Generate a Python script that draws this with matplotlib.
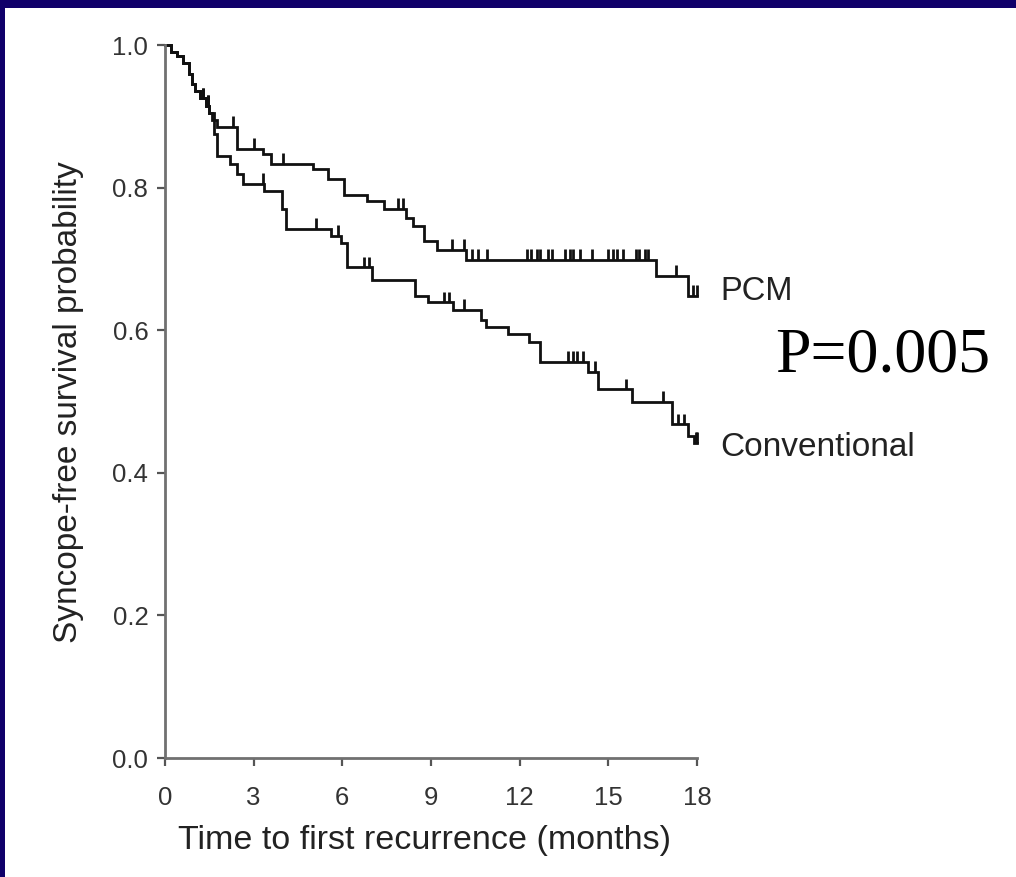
import matplotlib
matplotlib.use('Agg')
import matplotlib.pyplot as plt
from matplotlib.patches import Rectangle

plt.rcParams['font.family'] = ['Liberation Sans', 'DejaVu Sans']

# ---- data ----
shared_times = [0.2, 0.4, 0.6, 0.8, 0.9, 1.0, 1.2, 1.4, 1.5]
shared_surv = [0.99, 0.985, 0.975, 0.96, 0.945, 0.935, 0.925, 0.915, 0.905]

pcm_times = shared_times + [1.6, 1.75, 2.45, 3.3, 3.6, 5.0, 5.5, 6.05, 6.85, 7.4,
                            8.15, 8.4, 8.75, 9.2, 10.2, 16.6, 17.7]
pcm_surv = shared_surv + [0.895, 0.885, 0.854, 0.847, 0.833, 0.826, 0.812, 0.79, 0.781, 0.77,
                          0.758, 0.746, 0.725, 0.713, 0.699, 0.676, 0.648]
pcm_censor = [1.3, 1.45, 2.3, 3.0, 4.0, 7.9, 8.05, 9.7, 10.1, 10.4, 10.6, 10.9,
              12.25, 12.4, 12.6, 12.7, 12.95, 13.1, 13.55, 13.7, 13.8, 14.05, 14.45,
              15.0, 15.15, 15.3, 15.5, 15.95, 16.05, 16.25, 16.35, 17.3, 17.85, 18.0]

conv_times = shared_times + [1.65, 1.75, 2.2, 2.45, 2.65, 3.35, 3.95, 4.1, 5.6, 5.95, 6.15,
                             7.0, 8.45, 8.9, 9.75, 10.7, 10.85, 11.6, 12.3, 12.7, 14.3,
                             14.65, 15.8, 17.15, 17.7, 17.9]
conv_surv = shared_surv + [0.875, 0.844, 0.833, 0.819, 0.805, 0.795, 0.77, 0.742, 0.732, 0.723,
                           0.688, 0.671, 0.648, 0.639, 0.629, 0.615, 0.604, 0.594, 0.583,
                           0.556, 0.542, 0.517, 0.50, 0.468, 0.451, 0.442]
conv_censor = [1.3, 1.45, 3.3, 5.1, 5.85, 6.75, 6.9, 9.45, 9.6, 10.1, 13.65, 13.8,
               13.95, 14.15, 14.55, 15.6, 16.85, 17.35, 17.55, 17.95, 18.0]

x_ticks = [0, 3, 6, 9, 12, 15, 18]
y_ticks = [0.0, 0.2, 0.4, 0.6, 0.8, 1.0]
y_tick_labels = ['0.0', '0.2', '0.4', '0.6', '0.8', '1.0']
x_label = 'Time to first recurrence (months)'
y_label = 'Syncope-free survival probability'
group_labels = ['PCM', 'Conventional']
p_text = 'P=0.005'
t_end = 18.0


def surv_at(times, surv, t):
    s = 1.0
    for ti, si in zip(times, surv):
        if ti <= t:
            s = si
    return s


fig = plt.figure(figsize=(10.16, 8.77), dpi=100)
fig.patch.set_facecolor('white')
navy = '#10006a'
fig.patches.append(Rectangle((0, 1 - 8 / 877), 1, 8 / 877, transform=fig.transFigure,
                             facecolor=navy, edgecolor='none', zorder=0))
fig.patches.append(Rectangle((0, 0), 5 / 1016, 1, transform=fig.transFigure,
                             facecolor=navy, edgecolor='none', zorder=0))

ax = fig.add_axes([165 / 1016, 1 - 758 / 877, (697 - 165) / 1016, (758 - 45) / 877])
ax.set_xlim(0, 18)
ax.set_ylim(0, 1)
ax.patch.set_alpha(0)

for times, surv, cens in [(pcm_times, pcm_surv, pcm_censor),
                          (conv_times, conv_surv, conv_censor)]:
    xs = [0.0] + times + [t_end]
    ys = [1.0] + surv + [surv[-1]]
    ax.step(xs, ys, where='post', color='#111111', lw=2.0, clip_on=False,
            solid_joinstyle='miter')
    cy = [surv_at(times, surv, c) for c in cens]
    ax.vlines(cens, cy, [v + 0.015 for v in cy], color='#111111', lw=2.0, clip_on=False)

for s in ['top', 'right']:
    ax.spines[s].set_visible(False)
for s in ['left', 'bottom']:
    ax.spines[s].set_color('#707070')
    ax.spines[s].set_linewidth(2.0)

ax.set_xticks(x_ticks)
ax.set_xticklabels([str(v) for v in x_ticks])
ax.set_yticks(y_ticks)
ax.set_yticklabels(y_tick_labels)
ax.tick_params(axis='both', direction='out', length=6, width=1.6, colors='#555555',
               labelcolor='#333333', labelsize=18.5)
ax.tick_params(axis='x', pad=14)
ax.tick_params(axis='y', pad=6)

ax.set_xlabel(x_label, fontsize=24.5, color='#222222')
ax.xaxis.label.set(va='center')
ax.xaxis.set_label_coords((425 - 165) / 532, (758 - 840) / 713)
ax.set_ylabel(y_label, fontsize=24, color='#222222')
ax.yaxis.label.set(va='center')
ax.yaxis.set_label_coords((68 - 165) / 532, (758 - 402) / 713)

ax.text(18.78, 0.654, group_labels[0], fontsize=23.5, color='#222222', va='center', ha='left')
ax.text(18.78, 0.435, group_labels[1], fontsize=24, color='#222222', va='center', ha='left')
fig.text(775 / 1016, 1 - 356 / 877, p_text, fontsize=46, color='black',
         family=['Liberation Serif', 'DejaVu Serif'], va='center', ha='left')

fig.savefig('out.png', dpi=100, facecolor='white')
